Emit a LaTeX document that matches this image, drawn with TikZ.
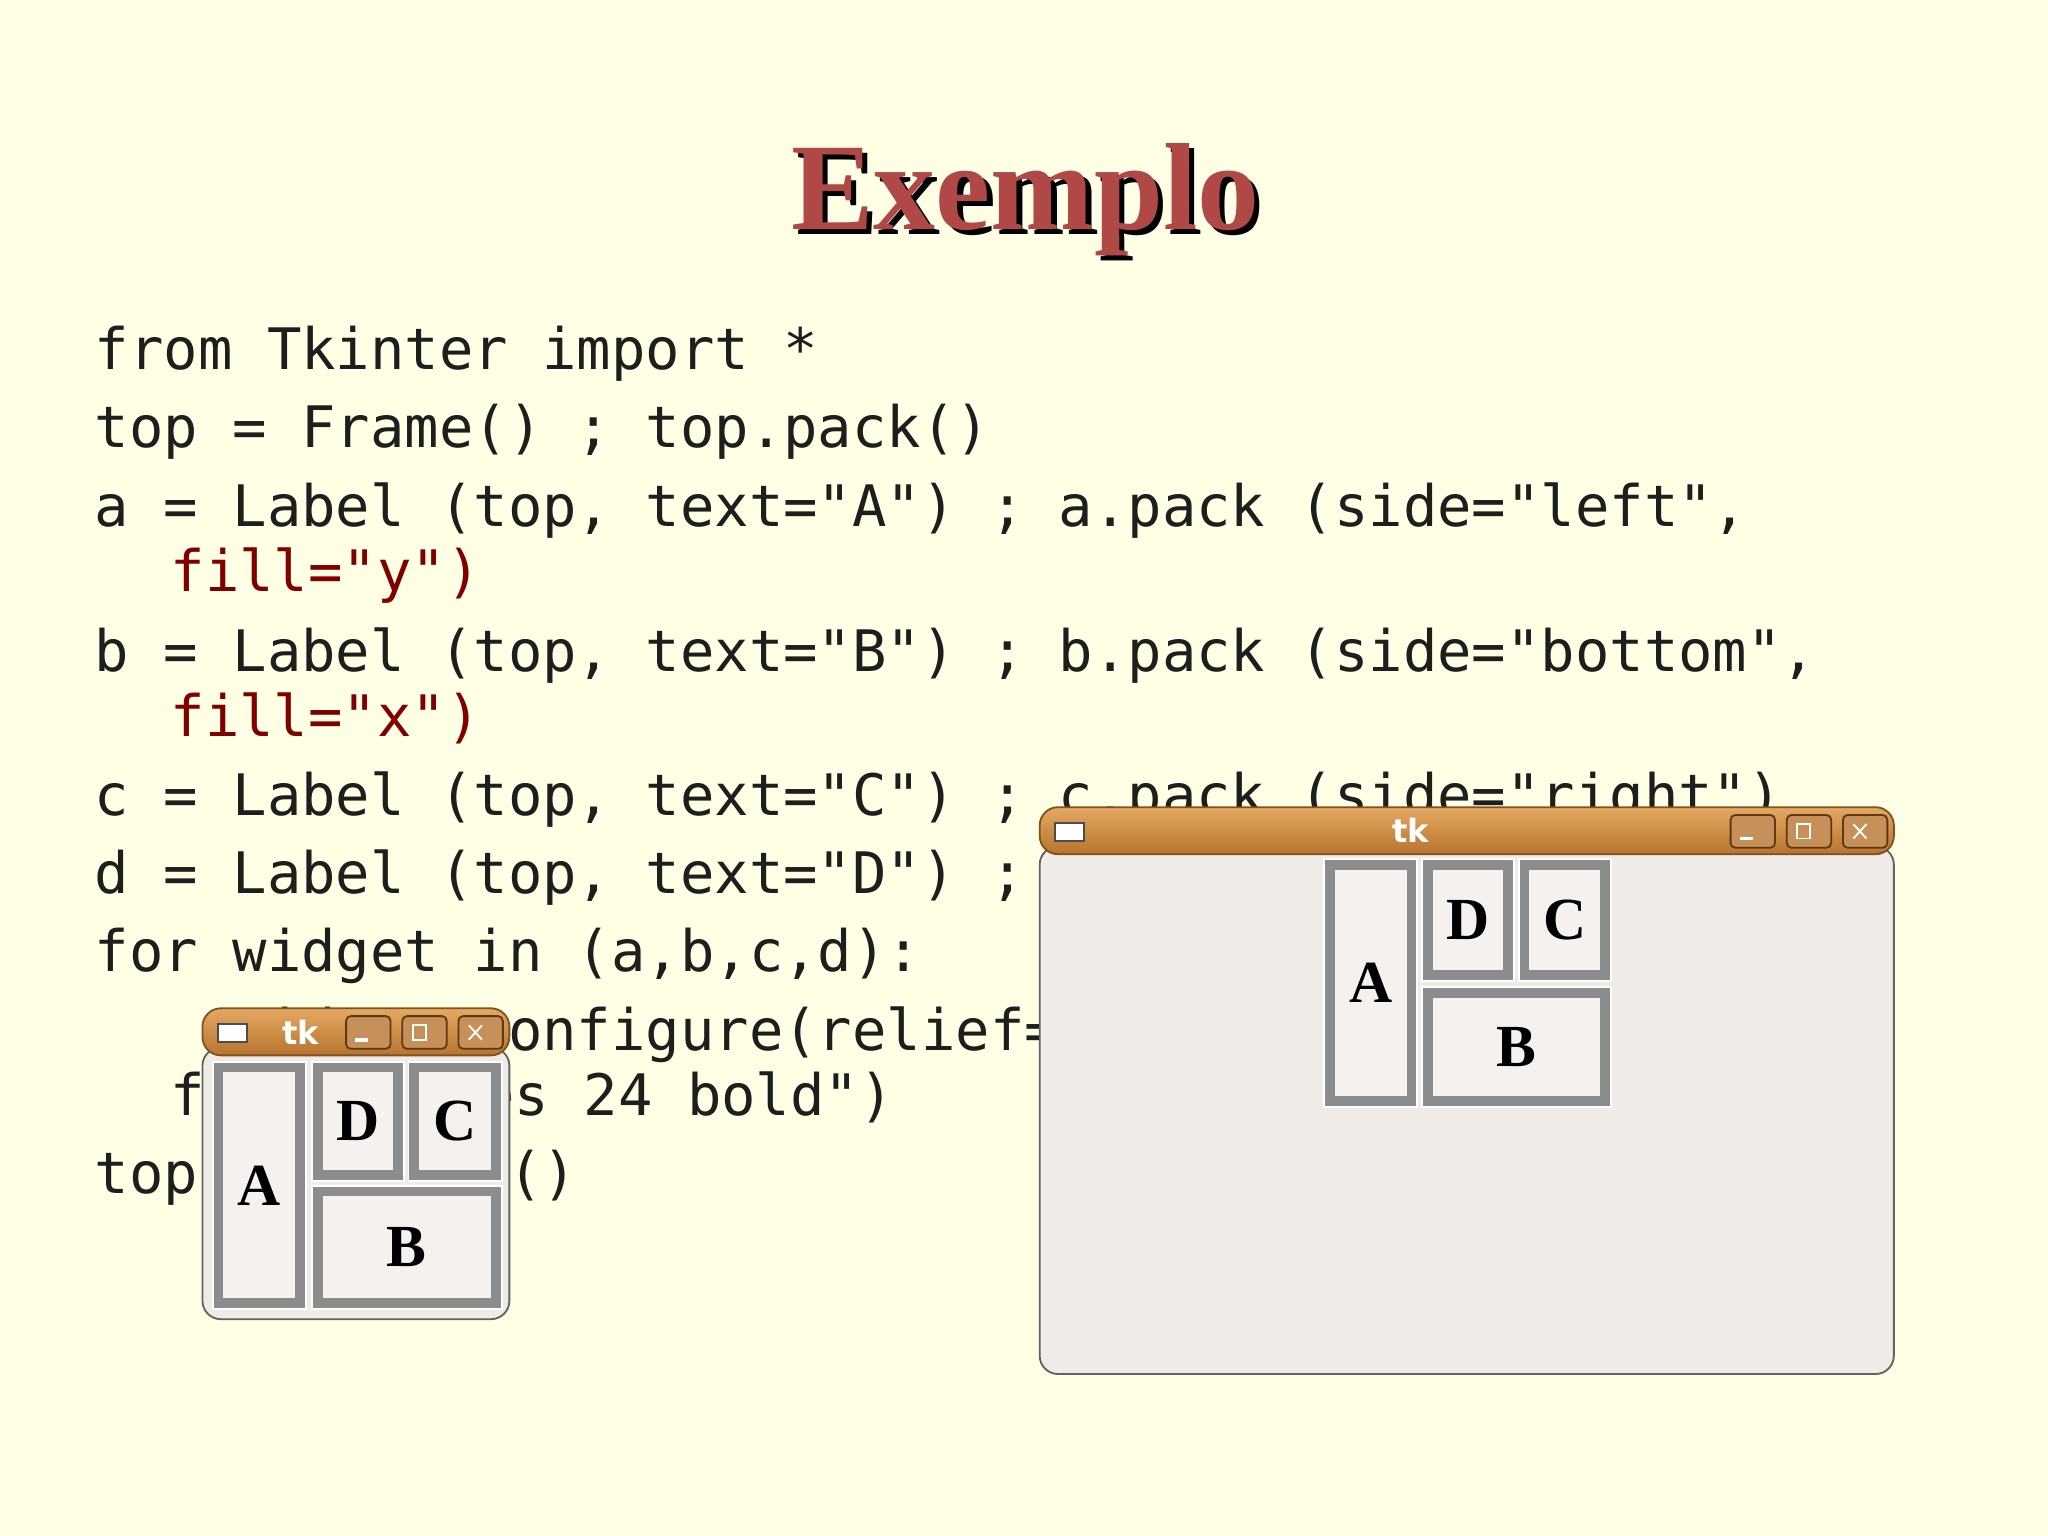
\documentclass[tikz,border=0pt]{standalone}
\usepackage{fontspec}
\setmainfont{Liberation Serif}
\setmonofont{DejaVu Sans Mono}
\newfontfamily\barfont{DejaVu Sans}
\definecolor{slidebg}{HTML}{FFFFE6}
\definecolor{titlered}{HTML}{B04848}
\definecolor{codegray}{HTML}{1E1E1E}
\definecolor{fillred}{HTML}{800000}
\definecolor{winbg}{HTML}{EFEBE7}
\definecolor{barlight}{HTML}{E4A862}
\definecolor{bardark}{HTML}{B8742E}
\definecolor{groove}{HTML}{8C8C8C}
\tikzset{
	codeline/.style={anchor=base west,inner sep=0pt,font=\ttfamily\fontsize{12.45}{14}\selectfont,text=codegray},
	tklabel/.style={font=\bfseries\fontsize{13}{14}\selectfont,text=black},
	barglyph/.style={draw=white,line width=0.4pt},
}
\newcommand{\tkwindow}[4]{% x1,y1,x2,y2
	\draw[groove!70!black,fill=winbg,rounded corners=4] (#1,#2+30) rectangle (#3,#4);
	\shade[top color=barlight,bottom color=bardark,draw=bardark!70!black,rounded corners=4] (#1,#2+36) rectangle (#3,#2);
	\draw[fill=white,draw=black!70] (#1+12,#2+12) rectangle (#1+34,#2+26);
	\foreach \k in {1,2,3}{
		\draw[fill=bardark!80,draw=bardark!50!black,rounded corners=1] (#3-\k*43+4,#2+6) rectangle (#3-\k*43+38,#2+31);
	}
	% close, maximize, minimize
	\draw[barglyph] (#3-31,#2+13) -- (#3-21,#2+24) (#3-31,#2+24) -- (#3-21,#2+13);
	\draw[barglyph] (#3-74,#2+13) rectangle (#3-64,#2+24);
	\draw[barglyph,line width=0.8pt] (#3-118,#2+24) -- (#3-108,#2+24);
}
\newcommand{\groovebox}[4]{% x1,y1,x2,y2
	\fill[white] (#1,#2) rectangle (#3,#4);
	\draw[groove,line width=0.09cm] (#1+6,#2+6) rectangle (#3-6,#4-6);
	\fill[winbg!70!white] (#1+9,#2+9) rectangle (#3-9,#4-9);
}
\begin{document}
\begin{tikzpicture}[x=0.01cm,y=-0.01cm]
	\fill[slidebg] (0,0) rectangle (1568,1176);
	% title
	\node[font=\bfseries\fontsize{27}{30}\selectfont,text=black] at (789,157) {Exemplo};
	\node[font=\bfseries\fontsize{27}{30}\selectfont,text=titlered] (title) at (785,153) {Exemplo};

	% code
	\foreach \y/\txt in {283/{from Tkinter import *},
		343/{top = Frame() ; top.pack()},
		403/{a = Label (top, text="A") ; a.pack (side="left",},
		514/{b = Label (top, text="B") ; b.pack (side="bottom",},
		624/{c = Label (top, text="C") ; c.pack (side="right")},
		684/{d = Label (top, text="D") ; d.pack (side="right")},
		744/{for widget in (a,b,c,d):},
		804/{\ \ \ \ widget.configure(relief="groove", border=10,},
		914/{top.mainloop()}}{
		\node[codeline] at (72,\y) {\txt};
	}
	\node[codeline,text=fillred] at (130,453) {fill="y")};
	\node[codeline,text=fillred] at (130,564) {fill="x")};
	\node[codeline] at (130,854) {font="Times 24 bold")};

	% small window
	\tkwindow{155}{772}{390}{1010}
	\node[font=\barfont\bfseries\fontsize{7}{8}\selectfont,text=white] (tksmall) at (230,790) {tk};
	\foreach \a/\b/\c/\d/\t in {162/812/235/1003/A, 238/812/310/905/D, 312/812/385/905/C, 238/907/385/1003/B}{
		\groovebox{\a}{\b}{\c}{\d}
		\node[tklabel] at ({(\a+\c)/2},{(\b+\d)/2}) {\t};
	}

	% large window
	\tkwindow{796}{618}{1450}{1052}
	\node[font=\barfont\bfseries\fontsize{7}{8}\selectfont,text=white] (tkbig) at (1080,636) {tk};
	\foreach \a/\b/\c/\d/\t in {1013/657/1086/848/A, 1088/657/1160/752/D, 1162/657/1234/752/C, 1088/755/1234/848/B}{
		\groovebox{\a}{\b}{\c}{\d}
		\node[tklabel] at ({(\a+\c)/2},{(\b+\d)/2}) {\t};
	}
\end{tikzpicture}
\end{document}
